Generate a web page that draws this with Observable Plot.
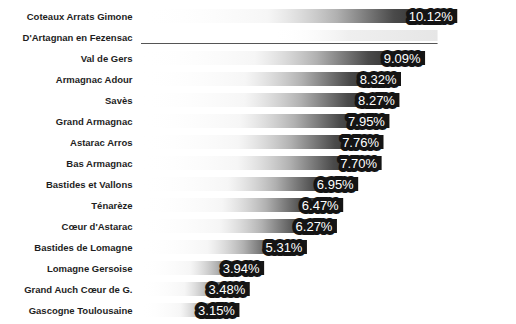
<!DOCTYPE html>
<html>
<head>
<meta charset="utf-8">
<script src="https://cdn.jsdelivr.net/npm/d3@7"></script>
<script src="https://cdn.jsdelivr.net/npm/@observablehq/plot@0.6"></script>
<style>
  html, body { margin: 0; padding: 0; background: #fff; }
  #chart svg { display: block; }
</style>
</head>
<body>
<div id="chart"></div>
<script>
const territories = [
  "Coteaux Arrats Gimone",
  "D'Artagnan en Fezensac",
  "Val de Gers",
  "Armagnac Adour",
  "Savès",
  "Grand Armagnac",
  "Astarac Arros",
  "Bas Armagnac",
  "Bastides et Vallons",
  "Ténarèze",
  "Cœur d'Astarac",
  "Bastides de Lomagne",
  "Lomagne Gersoise",
  "Grand Auch Cœur de G.",
  "Gascogne Toulousaine"
];
const shares = [10.12, 9.49, 9.09, 8.32, 8.27, 7.95, 7.76, 7.70, 6.95, 6.47, 6.27, 5.31, 3.94, 3.48, 3.15];
const faded = ["D'Artagnan en Fezensac"];

const data = territories.map((t, i) => ({territory: t, share: shares[i], faded: faded.includes(t)}));
const solid = data.filter(d => !d.faded);
const light = data.filter(d => d.faded);

const defs = () => {
  const ns = "http://www.w3.org/2000/svg";
  const g = document.createElementNS(ns, "defs");
  g.innerHTML = `
    <linearGradient id="barGrad" x1="0" x2="1" y1="0" y2="0">
      <stop offset="0" stop-color="#ffffff" stop-opacity="0"/>
      <stop offset="0.4" stop-color="#f0f0f0" stop-opacity="0.6"/>
      <stop offset="0.62" stop-color="#b0b0b0"/>
      <stop offset="0.8" stop-color="#4a4a4a"/>
      <stop offset="1" stop-color="#141414"/>
    </linearGradient>
    <linearGradient id="lightGrad" x1="0" x2="1" y1="0" y2="0">
      <stop offset="0" stop-color="#ffffff" stop-opacity="0"/>
      <stop offset="0.45" stop-color="#ffffff" stop-opacity="0"/>
      <stop offset="0.7" stop-color="#efefef"/>
      <stop offset="1" stop-color="#e6e6e6"/>
    </linearGradient>`;
  return g;
};

const chart = Plot.plot({
  width: 516,
  height: 324,
  marginLeft: 141,
  marginRight: 0,
  marginTop: 5.5,
  marginBottom: 2.5,
  style: {fontFamily: "'Liberation Sans', Arial, sans-serif", background: "#fff"},
  x: {domain: [0, 12], axis: null},
  y: {domain: territories, paddingInner: 0.32, paddingOuter: 0.16, label: null, tickSize: 0, tickPadding: 9},
  marks: [
    defs,
    Plot.axisY({tickSize: 0, tickPadding: 9, fontSize: 9.5, fontWeight: 600, color: "#1e1e1e", label: null}),
    Plot.barX(solid, {x: "share", y: "territory", fill: "url(#barGrad)"}),
    Plot.barX(light, {x: "share", y: "territory", fill: "url(#lightGrad)", insetBottom: 3}),
    Plot.ruleY(light, {y: "territory", x1: 0, x2: "share", stroke: "#555", strokeWidth: 1.2, dy: 6}),
    Plot.ruleX(light, {x: 0, y: "territory", stroke: "#555", strokeWidth: 1.2, dx: -2, insetTop: 2}),
    Plot.text(solid, {
      x: "share", y: "territory",
      text: d => d.share.toFixed(2) + "%",
      textAnchor: "end", dx: -5,
      fill: "#fff", stroke: "#141414", strokeWidth: 8, strokeLinejoin: "round",
      fontSize: 13, fontWeight: 500,
      style: {letterSpacing: "0.3px"}
    })
  ]
});
document.getElementById("chart").appendChild(chart);
</script>
</body>
</html>
